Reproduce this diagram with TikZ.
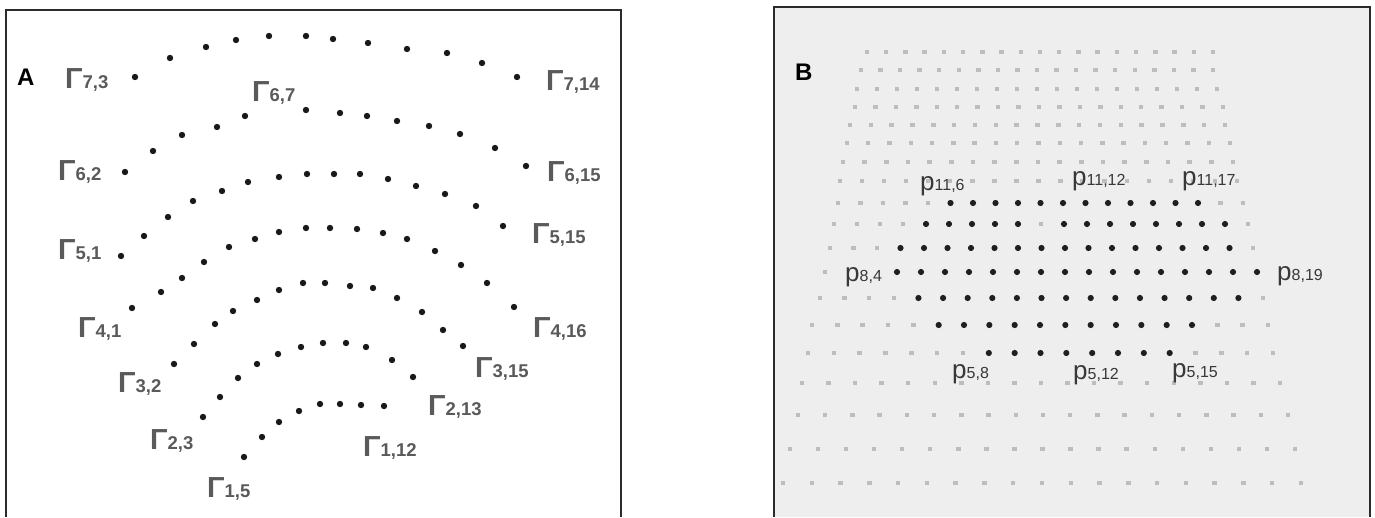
\documentclass[tikz,border=0pt]{standalone}
\usepackage{fontspec}
\setmainfont{Liberation Sans}
\definecolor{gammagray}{HTML}{5A5A5A}
\definecolor{plabel}{HTML}{383838}
\definecolor{bbg}{HTML}{EEEEEE}
\definecolor{bfaint}{HTML}{BDBDBD}
\definecolor{framecol}{HTML}{2B2B2B}
\newcommand\GamLab[1]{{\fontsize{29}{30}\selectfont\bfseries Γ}{\fontsize{18.5}{20}\selectfont\bfseries #1}}
\newcommand\PLab[1]{{\fontsize{26}{27}\selectfont p}{\fontsize{16}{17}\selectfont #1}}
\tikzset{
  frame/.style={draw=framecol, line width=2pt},
  adot/.style={fill=black!90},
  bdark/.style={fill=black!88},
  bfaintdot/.style={fill=bfaint},
  gam/.style={anchor=base west, inner sep=0pt, text=gammagray},
  plab/.style={anchor=base west, inner sep=0pt, text=plabel},
  panel/.style={anchor=base west, inner sep=0pt, font=\fontsize{24}{26}\selectfont\bfseries}
}
\begin{document}
\begin{tikzpicture}[x=1pt,y=-1pt]
\useasboundingbox (0,0) rectangle (1375,517);
\fill[white] (0,0) rectangle (1375,517);
% panel B background
\fill[bbg] (774,7) rectangle (1370,517);
% frames
\draw[frame] (6,517) -- (6,10) -- (621,10) -- (621,517);
\draw[frame] (774,517) -- (774,7) -- (1370,7) -- (1370,517);
% panel letters
\node[panel] (lA) at (17,85) {A};
\node[panel] (lB) at (795,80) {B};
% ---------- panel A dots ----------
\foreach \p in {(135,77),(170,58),(206,47),(236,40),(269,36),(306,36),(333,39),(368,43),(407,49),(447,53),(482,63),(517,77),
 (125,172),(153,151),(182,135),(217,127),(245,116),(306,110),(340,113),(367,116),(397,121),(429,126),(460,134),(495,148),(526,166),
 (121,256),(144,236),(168,217),(193,201),(222,191),(248,182),(279,177),(307,174),(334,174),(360,174),(388,179),(416,186),(445,194),(476,206),(503,226),
 (132,308),(161,292),(182,278),(204,262),(229,247),(255,239),(279,232),(306,228),(330,228),(357,229),(383,233),(407,239),(435,251),(461,265),(487,283),(514,307),
 (174,364),(194,344),(215,324),(233,311),(257,300),(279,290),(303,283),(325,283),(350,286),(373,288),(397,298),(422,312),(443,330),(463,346),
 (203,417),(220,397),(238,378),(257,364),(278,354),(301,347),(323,343),(346,343),(366,347),(392,360),(413,377),
 (244,457),(262,437),(279,422),(299,411),(320,404),(340,404),(361,405),(384,406)}
  {\fill[adot] \p circle (3.2pt);}
% ---------- panel A labels ----------
\node[gam] (g73)  at (65,88)   {\GamLab{7,3}};
\node[gam] (g67)  at (252,101) {\GamLab{6,7}};
\node[gam] (g714) at (546,90)  {\GamLab{7,14}};
\node[gam] (g62)  at (58,180)  {\GamLab{6,2}};
\node[gam] (g615) at (547,181) {\GamLab{6,15}};
\node[gam] (g51)  at (58,259)  {\GamLab{5,1}};
\node[gam] (g515) at (532,243) {\GamLab{5,15}};
\node[gam] (g41)  at (78,337)  {\GamLab{4,1}};
\node[gam] (g416) at (533,337) {\GamLab{4,16}};
\node[gam] (g32)  at (118,392) {\GamLab{3,2}};
\node[gam] (g315) at (475,377) {\GamLab{3,15}};
\node[gam] (g23)  at (150,449) {\GamLab{2,3}};
\node[gam] (g213) at (428,415) {\GamLab{2,13}};
\node[gam] (g112) at (363,456) {\GamLab{1,12}};
\node[gam] (g15)  at (207,497) {\GamLab{1,5}};
% ---------- panel B grid ----------
\foreach \yy/\xl/\xr/\dl/\dr/\gp/\sl/\sr in {
  52/867/1213/99/-1/-1/99/-1, 70/861/1213/99/-1/-1/99/-1, 89/857/1217/99/-1/-1/99/-1,
  107/855/1223/99/-1/-1/99/-1, 125/850/1225/99/-1/-1/99/-1, 143/847/1230/99/-1/-1/99/-1,
  162/843/1233/99/-1/-1/99/-1, 181/840/1237/99/-1/-1/99/-1,
  203/838/1243/5/16/-1/99/-1, 224/834/1248/4/17/9/99/-1, 248/830/1253/3/17/-1/99/-1,
  272/825/1257/3/18/-1/1/2, 298/820/1263/4/17/-1/99/-1, 325/812/1268/5/15/-1/99/-1,
  353/808/1273/7/14/-1/99/-1,
  383/802/1280/99/-1/-1/99/-1, 415/798/1288/99/-1/-1/99/-1, 449/790/1295/99/-1/-1/99/-1,
  483/783/1301/99/-1/-1/99/-1}{
  \foreach \cc in {0,...,18}{
    \pgfmathsetmacro\xx{\xl+\cc*(\xr-\xl)/18}
    \pgfmathtruncatemacro\isdark{and(and(\cc>=\dl,\cc<=\dr),\cc!=\gp)}
    \pgfmathtruncatemacro\isskip{and(\cc>=\sl,\cc<=\sr)}
    \ifnum\isdark=1
      \fill[bdark] (\xx,\yy) circle (3.1pt);
    \else
      \ifnum\isskip=0
        \fill[bfaintdot] (\xx-2.2,\yy-2.2) rectangle (\xx+2.2,\yy+2.2);
      \fi
    \fi
  }
}
% ---------- panel B labels ----------
\node[plab] (p116)  at (920,190)  {\PLab{11,6}};
\node[plab] (p1112) at (1072,185) {\PLab{11,12}};
\node[plab] (p1117) at (1182,185) {\PLab{11,17}};
\node[plab] (p84)   at (845,281)  {\PLab{8,4}};
\node[plab] (p819)  at (1277,280) {\PLab{8,19}};
\node[plab] (p58)   at (952,378)  {\PLab{5,8}};
\node[plab] (p512)  at (1073,379) {\PLab{5,12}};
\node[plab] (p515)  at (1172,377) {\PLab{5,15}};
\end{tikzpicture}
\end{document}
